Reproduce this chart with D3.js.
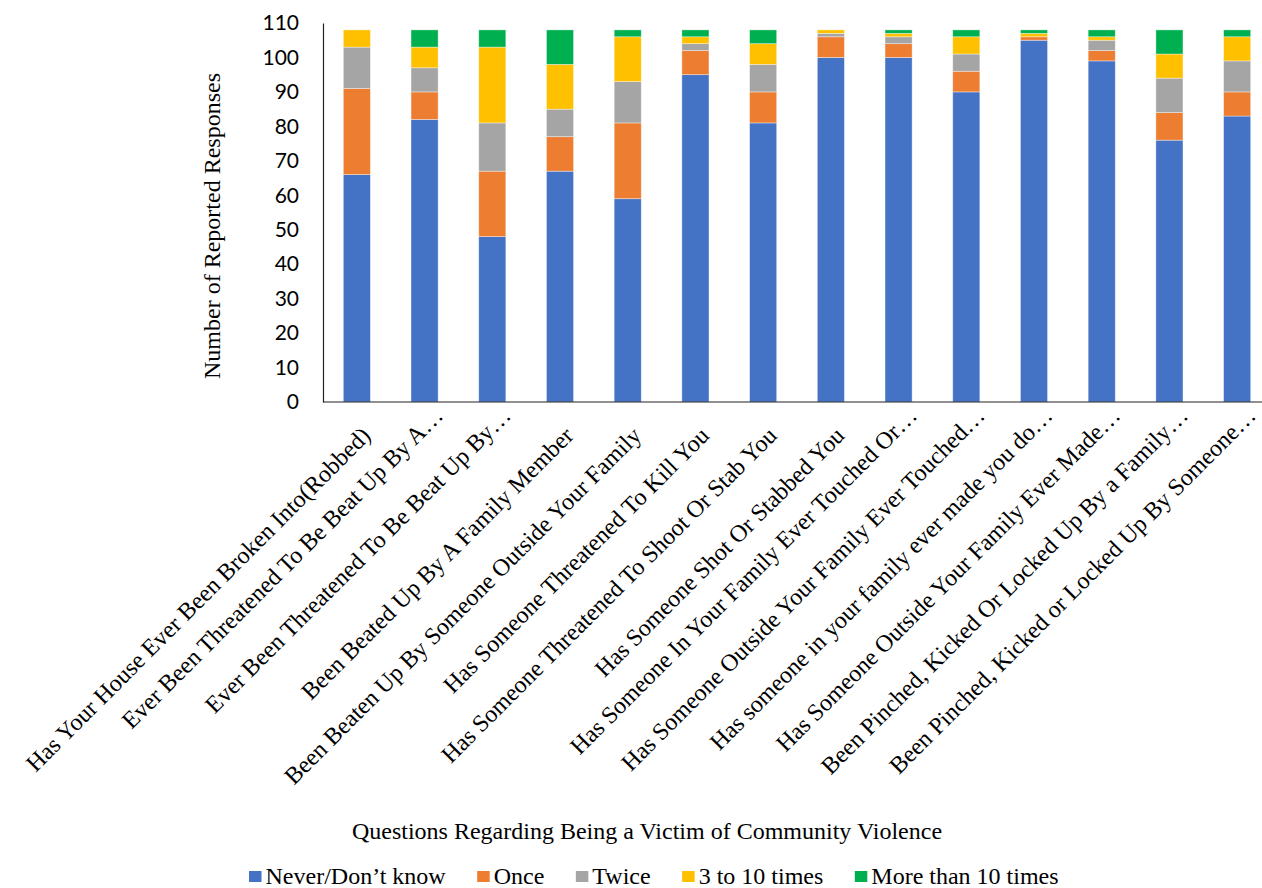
<!DOCTYPE html>
<html>
<head>
<meta charset="utf-8">
<script src="https://cdn.jsdelivr.net/npm/d3@7"></script>
<style>
  html, body { margin: 0; padding: 0; background: #fff; }
  svg { display: block; }
</style>
</head>
<body>
<svg id="chart" width="1262" height="888"></svg>
<script>
// Survey questions (x-axis categories)
const questions = [
  "Has Your House Ever Been Broken Into(Robbed)",
  "Ever Been Threatened To Be Beat Up By A…",
  "Ever Been Threatened To Be Beat Up By…",
  "Been Beated Up By A Family Member",
  "Been Beaten Up By Someone Outside Your Family",
  "Has Someone Threatened To Kill You",
  "Has Someone Threatened To Shoot Or Stab You",
  "Has Someone Shot Or Stabbed You",
  "Has Someone In Your Family Ever Touched Or…",
  "Has Someone Outside Your Family Ever Touched…",
  "Has someone in your family ever made you do…",
  "Has Someone Outside Your Family Ever Made…",
  "Been Pinched, Kicked Or Locked Up By a Family…",
  "Been Pinched, Kicked or Locked Up By Someone…"
];

// Response frequency series
const seriesNames = ["Never/Don’t know", "Once", "Twice", "3 to 10 times", "More than 10 times"];
const seriesColors = ["#4472C4", "#ED7D31", "#A5A5A5", "#FFC000", "#00B050"];

const neverDontKnow = [66, 82, 48, 67, 59, 95, 81, 100, 100, 90, 105, 99, 76, 83];
const once          = [25,  8, 19, 10, 22,  7,  9,   6,   4,  6,   1,  3,  8,  7];
const twice         = [12,  7, 14,  8, 12,  2,  8,   1,   2,  5,   0,  3, 10,  9];
const threeToTen    = [ 5,  6, 22, 13, 13,  2,  6,   1,   1,  5,   1,  1,  7,  7];
const moreThanTen   = [ 0,  5,  5, 10,  2,  2,  4,   0,   1,  2,  1,  2,  7,  2];

const yTicks = [0, 10, 20, 30, 40, 50, 60, 70, 80, 90, 100, 110];

const yTitle = "Number of Reported Responses";
const xTitle = "Questions Regarding Being a Victim of Community Violence";

// Build a row-per-question table for the stack layout
const keys = ["k0", "k1", "k2", "k3", "k4"];
const seriesData = [neverDontKnow, once, twice, threeToTen, moreThanTen];
const table = questions.map((q, i) => {
  const row = { q };
  keys.forEach((k, j) => { row[k] = seriesData[j][i]; });
  return row;
});
const stacked = d3.stack().keys(keys)(table);

const svg = d3.select("#chart");
const plot = { left: 323, right: 1271, top: 23, bottom: 402 };

const x = d3.scaleBand().domain(questions).range([plot.left, plot.right]).paddingInner(0.6).paddingOuter(0.3);
const y = d3.scaleLinear().domain([0, 110]).range([plot.bottom, plot.top]);

const serif = "'Liberation Serif', 'Times New Roman', serif";
const sans = "Lato, 'Open Sans', sans-serif";
const fs = 24;

// Stacked bars
svg.append("g").selectAll("g")
  .data(stacked)
  .join("g")
  .attr("fill", (d, i) => seriesColors[i])
  .selectAll("rect")
  .data(d => d)
  .join("rect")
  .attr("x", d => x(d.data.q))
  .attr("width", x.bandwidth())
  .attr("y", d => y(d[1]))
  .attr("height", d => y(d[0]) - y(d[1]))
  .attr("stroke", "#ffffff")
  .attr("stroke-opacity", 0.5)
  .attr("stroke-width", 0.75);

// Y axis (line + labels, no tick marks)
const yAxis = svg.append("g")
  .attr("transform", `translate(${plot.left},0)`)
  .call(d3.axisLeft(y).tickValues(yTicks).tickSize(0).tickPadding(24));
yAxis.select(".domain").attr("stroke", "#222").attr("stroke-width", 1.2);
yAxis.selectAll("text")
  .attr("font-family", sans)
  .attr("font-size", 21)
  .attr("fill", "#000");

// X axis line
svg.append("line")
  .attr("x1", plot.left).attr("x2", 1262)
  .attr("y1", plot.bottom).attr("y2", plot.bottom)
  .attr("stroke", "#222").attr("stroke-width", 1.2);

// Rotated category labels; shortened (ellipsis) labels sit a little higher
svg.append("g").selectAll("text")
  .data(questions)
  .join("text")
  .attr("transform", d => {
    const cut = d.endsWith("…");
    const ax = x(d) + x.bandwidth() / 2 + (cut ? 20 : 15);
    const ay = plot.bottom + (cut ? 15 : 35);
    return `translate(${ax},${ay}) rotate(-45)`;
  })
  .attr("text-anchor", "end")
  .attr("font-family", serif)
  .attr("font-size", fs)
  .attr("fill", "#000")
  .text(d => d);

// Y axis title
svg.append("text")
  .attr("transform", "translate(220,226) rotate(-90)")
  .attr("text-anchor", "middle")
  .attr("font-family", serif)
  .attr("font-size", fs)
  .attr("fill", "#000")
  .text(yTitle);

// X axis title
svg.append("text")
  .attr("x", 647).attr("y", 839)
  .attr("text-anchor", "middle")
  .attr("font-family", serif)
  .attr("font-size", fs)
  .attr("fill", "#000")
  .text(xTitle);

// Legend
const legend = svg.append("g").attr("transform", "translate(249,884)");
let lx = 0;
seriesNames.forEach((name, i) => {
  const g = legend.append("g").attr("transform", `translate(${lx},0)`);
  g.append("rect").attr("x", 0).attr("y", -13).attr("width", 12.5).attr("height", 11).attr("fill", seriesColors[i]);
  const t = g.append("text").attr("x", 16.5).attr("y", 0)
    .attr("font-family", serif).attr("font-size", fs).attr("fill", "#000").text(name);
  lx += 16.5 + t.node().getComputedTextLength() + 31.5;
});
</script>
</body>
</html>
